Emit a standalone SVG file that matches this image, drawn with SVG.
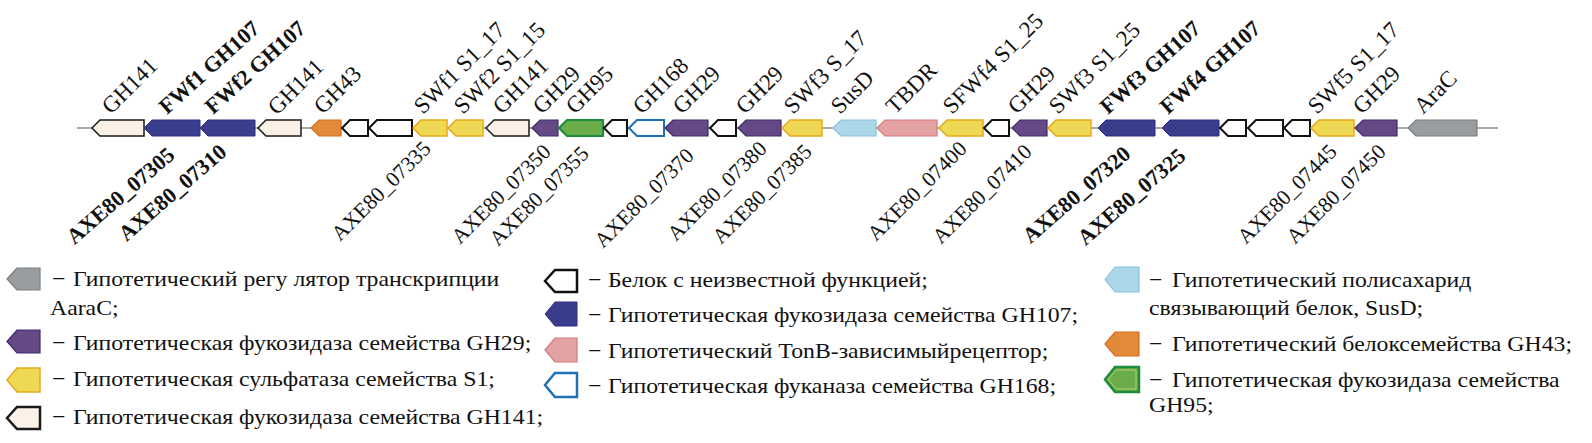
<svg xmlns="http://www.w3.org/2000/svg" width="1592" height="443" viewBox="0 0 1592 443">
<style>
text{font-family:"Liberation Serif","Times New Roman",serif;fill:#111}
.lb{font-size:21.5px}
.lt{font-size:23px}
.b{font-weight:bold;font-size:22px}
.lg{font-size:21.8px}
.cream{fill:#fcf1e7;stroke:#1a1a1a;stroke-width:1.5}
.blue{fill:#3a3c8e;stroke:#2c2f80;stroke-width:1}
.orange{fill:#e08a3a;stroke:#d86d1e;stroke-width:1.2}
.white{fill:#fff;stroke:#111;stroke-width:2}
.yellow{fill:#efd954;stroke:#e8a91a;stroke-width:1.5}
.purple{fill:#654985;stroke:#3e2a70;stroke-width:1.2}
.green{fill:#6aab4a;stroke:#1d8c3c;stroke-width:2.2}
.bo{fill:#fff;stroke:#1f6fb3;stroke-width:2}
.lblue{fill:#abd7e8;stroke:#86c4de;stroke-width:1.2}
.pink{fill:#e3a3a5;stroke:#d8797d;stroke-width:1.2}
.gray{fill:#9a9d9f;stroke:#7b7e80;stroke-width:1.2}
</style>
<g id="connectors">
<line x1="77" y1="128" x2="1498" y2="128" stroke="#555" stroke-width="1.2"/>
</g>
<g id="g1"><path class="cream" d="M92 128L100 120H144V136H100Z"/><text class="lt" transform="translate(111,115) rotate(-45)">GH141</text></g>
<g id="g2"><path class="blue" d="M144 128L152 120H200V136H152Z"/><text class="b" transform="translate(167,115) rotate(-42)">FWf1 GH107</text><text class="b" text-anchor="end" transform="translate(176,157) rotate(-41)">AXE80_07305</text></g>
<g id="g3"><path class="blue" d="M200 128L208 120H255V136H208Z"/><text class="b" transform="translate(213,115) rotate(-42)">FWf2 GH107</text><text class="b" text-anchor="end" transform="translate(228,154) rotate(-41)">AXE80_07310</text></g>
<g id="g4"><path class="cream" d="M258 128L266 120H301V136H266Z"/><text class="lt" transform="translate(277,116) rotate(-45)">GH141</text></g>
<g id="g5"><path class="orange" d="M311 128L319 120H341V136H319Z"/><text class="lt" transform="translate(323,115) rotate(-45)">GH43</text></g>
<g id="g6"><path class="white" d="M342 128L350 120H368V136H350Z"/></g>
<g id="g7"><path class="white" d="M369 128L377 120H412V136H377Z"/></g>
<g id="g8"><path class="yellow" d="M413 128L421 120H447V136H421Z"/><text class="lt" transform="translate(423,115) rotate(-45)">SWf1 S1_17</text><text class="lb" text-anchor="end" transform="translate(432,150) rotate(-45)">AXE80_07335</text></g>
<g id="g9"><path class="yellow" d="M448 128L456 120H483V136H456Z"/><text class="lt" transform="translate(463,115) rotate(-45)">SWf2 S1_15</text></g>
<g id="g10"><path class="cream" d="M486 128L494 120H529V136H494Z"/><text class="lt" transform="translate(502,115) rotate(-45)">GH141</text></g>
<g id="g11"><path class="purple" d="M532 128L540 120H558V136H540Z"/><text class="lt" transform="translate(542,115) rotate(-45)">GH29</text><text class="lb" text-anchor="end" transform="translate(552,153) rotate(-45)">AXE80_07350</text></g>
<g id="g12"><path class="green" d="M559 128L567 120H603V136H567Z"/><text class="lt" transform="translate(575,115) rotate(-45)">GH95</text><text class="lb" text-anchor="end" transform="translate(590,155) rotate(-45)">AXE80_07355</text></g>
<g id="g13"><path class="white" d="M604 128L612 120H627V136H612Z"/></g>
<g id="g14"><path class="bo" d="M629 128L637 120H664V136H637Z"/><text class="lt" transform="translate(642,115) rotate(-45)">GH168</text></g>
<g id="g15"><path class="purple" d="M665 128L673 120H708V136H673Z"/><text class="lt" transform="translate(682,115) rotate(-45)">GH29</text><text class="lb" text-anchor="end" transform="translate(695,157) rotate(-45)">AXE80_07370</text></g>
<g id="g16"><path class="white" d="M710 128L718 120H736V136H718Z"/></g>
<g id="g17"><path class="purple" d="M738 128L746 120H781V136H746Z"/><text class="lt" transform="translate(745,115) rotate(-45)">GH29</text><text class="lb" text-anchor="end" transform="translate(768,150) rotate(-45)">AXE80_07380</text></g>
<g id="g18"><path class="yellow" d="M782 128L790 120H822V136H790Z"/><text class="lt" transform="translate(793,115) rotate(-45)">SWf3 S_17</text><text class="lb" text-anchor="end" transform="translate(813,153) rotate(-45)">AXE80_07385</text></g>
<g id="g19"><path class="lblue" d="M833 128L841 120H876V136H841Z"/><text class="lt" transform="translate(840,115) rotate(-45)">SusD</text></g>
<g id="g20"><path class="pink" d="M877 128L885 120H937V136H885Z"/><text class="lt" transform="translate(895,115) rotate(-45)">TBDR</text></g>
<g id="g21"><path class="yellow" d="M939 128L947 120H983V136H947Z"/><text class="lt" transform="translate(952,115) rotate(-45)">SFWf4 S1_25</text><text class="lb" text-anchor="end" transform="translate(968,150) rotate(-45)">AXE80_07400</text></g>
<g id="g22"><path class="white" d="M984 128L992 120H1009V136H992Z"/></g>
<g id="g23"><path class="purple" d="M1012 128L1020 120H1047V136H1020Z"/><text class="lt" transform="translate(1017,115) rotate(-45)">GH29</text><text class="lb" text-anchor="end" transform="translate(1033,153) rotate(-45)">AXE80_07410</text></g>
<g id="g24"><path class="yellow" d="M1048 128L1056 120H1091V136H1056Z"/><text class="lt" transform="translate(1058,115) rotate(-45)">SWf3 S1_25</text></g>
<g id="g25"><path class="blue" d="M1098 128L1106 120H1155V136H1106Z"/><text class="b" transform="translate(1108,115) rotate(-42)">FWf3 GH107</text><text class="b" text-anchor="end" transform="translate(1132,156) rotate(-41)">AXE80_07320</text></g>
<g id="g26"><path class="blue" d="M1162 128L1170 120H1219V136H1170Z"/><text class="b" transform="translate(1168,115) rotate(-42)">FWf4 GH107</text><text class="b" text-anchor="end" transform="translate(1187,158) rotate(-41)">AXE80_07325</text></g>
<g id="g27"><path class="white" d="M1220 128L1228 120H1246V136H1228Z"/></g>
<g id="g28"><path class="white" d="M1248 128L1256 120H1283V136H1256Z"/></g>
<g id="g29"><path class="white" d="M1284 128L1292 120H1310V136H1292Z"/></g>
<g id="g30"><path class="yellow" d="M1311 128L1319 120H1354V136H1319Z"/><text class="lt" transform="translate(1317,115) rotate(-45)">SWf5 S1_17</text><text class="lb" text-anchor="end" transform="translate(1338,153) rotate(-45)">AXE80_07445</text></g>
<g id="g31"><path class="purple" d="M1355 128L1363 120H1397V136H1363Z"/><text class="lt" transform="translate(1362,115) rotate(-45)">GH29</text><text class="lb" text-anchor="end" transform="translate(1387,153) rotate(-45)">AXE80_07450</text></g>
<g id="g32"><path class="gray" d="M1408 128L1416 120H1477V136H1416Z"/><text class="lt" transform="translate(1423,115) rotate(-45)">AraC</text></g>
<g id="legend">
<g id="leg-arac"><path class="gray" d="M7 279L17 268H40V290H17Z"/><text class="lg" transform="translate(52,286) scale(1.09,1)">− <tspan x="19.3">Гипотетический регу лятор транскрипции</tspan></text><text class="lg" transform="translate(50,315) scale(1.09,1)">AaraC;</text></g>
<g id="leg-gh29"><path class="purple" d="M7 341.5L17 330H40V353H17Z"/><text class="lg" transform="translate(52,350) scale(1.09,1)">− <tspan x="19.3">Гипотетическая фукозидаза семейства GH29;</tspan></text></g>
<g id="leg-s1"><path class="yellow" d="M7 380L17 368H40V392H17Z"/><text class="lg" transform="translate(52,386) scale(1.09,1)">− <tspan x="19.3">Гипотетическая сульфатаза семейства S1;</tspan></text></g>
<g id="leg-gh141"><path class="cream" style="stroke-width:2.5" d="M7 418L17 407H40V429H17Z"/><text class="lg" transform="translate(52,424) scale(1.09,1)">− <tspan x="19.3">Гипотетическая фукозидаза семейства GH141;</tspan></text></g>
<g id="leg-unk"><path class="white" style="stroke-width:2.5" d="M545 281L555 270H577V292H555Z"/><text class="lg" transform="translate(588,287) scale(1.09,1)">− <tspan x="18.3">Белок с неизвестной функцией;</tspan></text></g>
<g id="leg-gh107"><path class="blue" d="M545 314L555 302H577V326H555Z"/><text class="lg" transform="translate(588,322) scale(1.09,1)">− <tspan x="18.3">Гипотетическая фукозидаза семейства GH107;</tspan></text></g>
<g id="leg-tonb"><path class="pink" d="M545 350L555 338H577V362H555Z"/><text class="lg" transform="translate(588,358) scale(1.09,1)">− <tspan x="18.3">Гипотетический TonB-зависимыйрецептор;</tspan></text></g>
<g id="leg-gh168"><path class="bo" style="stroke-width:2.5" d="M545 385L555 373H577V397H555Z"/><text class="lg" transform="translate(588,393) scale(1.09,1)">− <tspan x="18.3">Гипотетическая фуканаза семейства GH168;</tspan></text></g>
<g id="leg-susd"><path class="lblue" d="M1105 279.5L1115 267H1139V292H1115Z"/><text class="lg" transform="translate(1149,287) scale(1.09,1)">− <tspan x="21.1">Гипотетический полисахарид</tspan></text><text class="lg" transform="translate(1149,315) scale(1.09,1)">связывающий белок, SusD;</text></g>
<g id="leg-gh43"><path class="orange" d="M1105 344L1115 332H1139V356H1115Z"/><text class="lg" transform="translate(1149,351) scale(1.09,1)">− <tspan x="21.1">Гипотетический белоксемейства GH43;</tspan></text></g>
<g id="leg-gh95"><path class="green" style="stroke-width:2.5" d="M1105 379.5L1115 367H1139V392H1115Z"/><path d="M1108 379.5L1116.5 370H1136V389H1116.5Z" fill="none" stroke="#c8dd6a" stroke-width="0.8"/><text class="lg" transform="translate(1149,387) scale(1.09,1)">− <tspan x="21.1">Гипотетическая фукозидаза семейства</tspan></text><text class="lg" transform="translate(1149,412) scale(1.09,1)">GH95;</text></g>
</g>
</svg>
